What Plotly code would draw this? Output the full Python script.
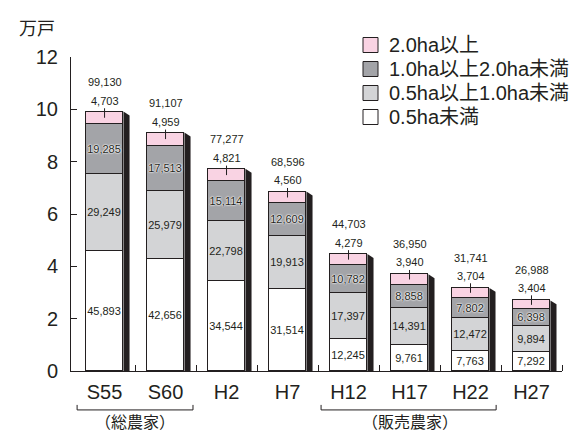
import plotly.graph_objects as go

years = ["S55", "S60", "H2", "H7", "H12", "H17", "H22", "H27"]
under05 = [45893, 42656, 34544, 31514, 12245, 9761, 7763, 7292]
ha05_10 = [29249, 25979, 22798, 19913, 17397, 14391, 12472, 9894]
ha10_20 = [19285, 17513, 15114, 12609, 10782, 8858, 7802, 6398]
over20 = [4703, 4959, 4821, 4560, 4279, 3940, 3704, 3404]
totals = [99130, 91107, 77277, 68596, 44703, 36950, 31741, 26988]
series_names = ["0.5ha未満", "0.5ha以上1.0ha未満", "1.0ha以上2.0ha未満", "2.0ha以上"]
group_labels = ["（総農家）", "（販売農家）"]
y_unit = "万戸"

FONT = "Liberation Sans, Arial, Noto Sans CJK JP, sans-serif"
colors = ["#ffffff", "#d3d4d6", "#a3a4a8", "#f9d3e3"]
BW = 0.62
xs = list(range(len(years)))

# plot-area geometry (pixels) used to place the legend in paper coordinates
L, R, T, B, W, H = 63, 33, 49, 70, 587, 433
PW, PH = W - L - R, H - T - B
def px_x(p):
    return (p - L) / PW
def px_y(p):
    return (H - B - p) / PH

fig = go.Figure()
series = [under05, ha05_10, ha10_20, over20]
for k, (name, vals) in enumerate(zip(series_names, series)):
    txt = [f"{v:,}" for v in vals] if k < 3 else None
    tf = dict(family=FONT, size=11, color="#231f20")
    if k == 2:
        tf["shadow"] = "0 0 2px #ffffff, 0 0 2px #ffffff, 0 0 1px #ffffff"
    fig.add_trace(go.Bar(
        x=xs, y=[v / 10000 for v in vals], name=name,
        marker=dict(color=colors[k], line=dict(color="#231f20", width=1)),
        width=BW, text=txt, textposition="inside" if k < 3 else "none",
        insidetextanchor="middle", textangle=0, textfont=tf,
        hoverinfo="skip", showlegend=False,
    ))

shapes = []
annotations = []
for i, t in enumerate(totals):
    top = t / 10000
    xr = i + BW / 2
    shapes.append(dict(type="path", xref="x", yref="y", layer="below",
                       path=f"M {xr},{top} L {xr + 0.1},{top - 0.15} L {xr + 0.1},0 L {xr},0 Z",
                       fillcolor="#231f20", line=dict(width=0)))
    annotations.append(dict(x=i, y=top - over20[i] / 20000, xref="x", yref="y",
                            text=f"{over20[i]:,}", showarrow=True, arrowhead=0,
                            arrowwidth=1, arrowcolor="#231f20", ax=0, ay=-17,
                            font=dict(family=FONT, size=11, color="#231f20")))
    annotations.append(dict(x=i, y=top, xref="x", yref="y", text=f"{t:,}",
                            showarrow=False, yanchor="middle", yshift=30,
                            font=dict(family=FONT, size=11, color="#231f20")))

# legend (top to bottom: largest class first)
for row, k in enumerate([3, 2, 1, 0]):
    cy = 37 + 24 * row
    shapes.append(dict(type="rect", xref="paper", yref="paper",
                       x0=px_x(355), x1=px_x(370), y0=px_y(cy + 7.5), y1=px_y(cy - 7.5),
                       fillcolor=colors[k], line=dict(color="#231f20", width=1)))
    annotations.append(dict(x=px_x(379), y=px_y(cy), xref="paper", yref="paper",
                            text=series_names[k], showarrow=False, xanchor="left",
                            yanchor="middle",
                            font=dict(family=FONT, size=20, color="#231f20")))

# group brackets
for (x0, x1, xl, lab) in [(-0.45, 1.45, 0.5, group_labels[0]), (3.55, 6.42, 5.0, group_labels[1])]:
    shapes.append(dict(type="path", xref="x", yref="paper",
                       path=f"M {x0},-0.108 L {x0},-0.124 L {x1},-0.124 L {x1},-0.108",
                       line=dict(color="#231f20", width=1)))
    annotations.append(dict(x=xl, y=-0.163, xref="x", yref="paper", text=lab,
                            showarrow=False, yanchor="middle",
                            font=dict(family=FONT, size=16, color="#231f20")))

annotations.append(dict(x=-0.07, y=1.088, xref="paper", yref="paper", text=y_unit,
                        showarrow=False, yanchor="middle", xanchor="center",
                        font=dict(family=FONT, size=18, color="#231f20")))

fig.update_layout(
    width=W, height=H, barmode="stack", bargap=0,
    margin=dict(l=L, r=R, t=T, b=B, autoexpand=False),
    paper_bgcolor="white", plot_bgcolor="white",
    font=dict(family=FONT, color="#231f20"),
    shapes=shapes, annotations=annotations,
    uniformtext=dict(minsize=11, mode="show"),
    showlegend=False,
)
fig.update_xaxes(range=[-0.55, 7.5], tickvals=xs, ticktext=years, ticks="",
                 showline=True, linecolor="#231f20", linewidth=1, showgrid=False,
                 zeroline=False, tickfont=dict(family=FONT, size=20, color="#231f20"),
                 ticklabelstandoff=3,
                 minor=dict(tickmode="array", tickvals=[i + 0.5 for i in xs],
                            ticks="inside", ticklen=6, tickcolor="#231f20", tickwidth=1))
fig.update_yaxes(range=[0, 12], dtick=2, ticks="inside", ticklen=6, tickcolor="#231f20",
                 showline=True, linecolor="#231f20", linewidth=1, showgrid=False,
                 zeroline=False, tickfont=dict(family=FONT, size=20, color="#231f20"),
                 ticklabelstandoff=8)

fig.write_html("out.html")
